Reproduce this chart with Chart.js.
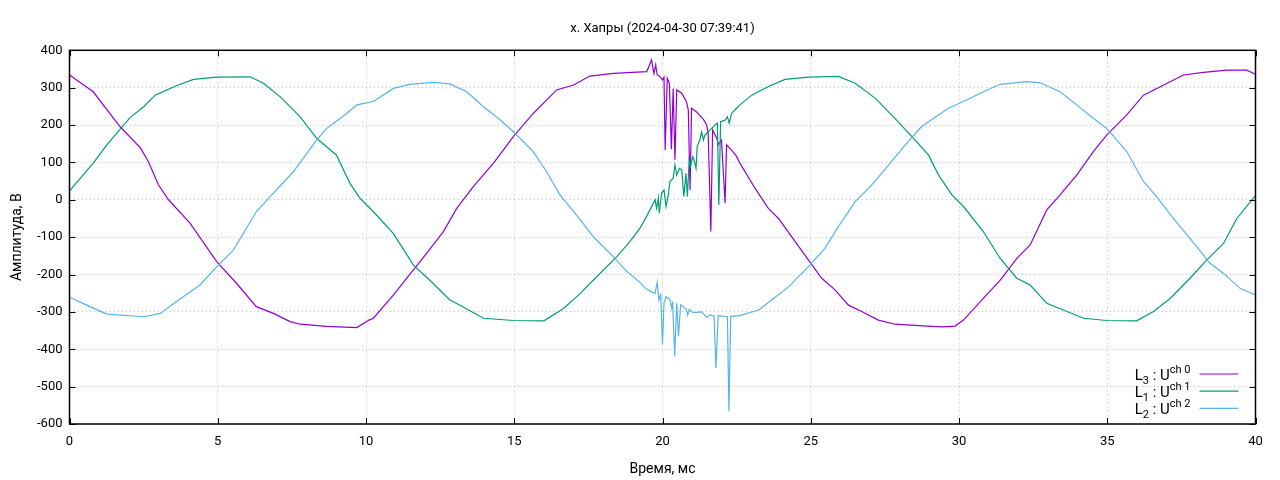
<!DOCTYPE html>
<html>
<head>
<meta charset="utf-8">
<script src="https://cdn.jsdelivr.net/npm/chart.js@4.4.1/dist/chart.umd.min.js"></script>
<style>
	html, body { margin: 0; padding: 0; background: #fff; }
	#box { width: 1280px; height: 480px; }
</style>
</head>
<body>
<div id="box"><canvas id="scope"></canvas></div>
<script>
// values, time in ms, voltage in V
const l3Time = [0, 0.8, 1.7, 2.4, 2.66, 3.0, 3.34, 4.07, 4.97, 5.64, 6.3, 6.88, 7.44, 7.78, 8.67, 9.69, 10.1, 10.25, 10.92, 11.37, 12.05, 12.61, 13.06, 13.62, 14.3, 14.97, 15.64, 16.43, 17.0, 17.55, 18.34, 19.47,
	19.63, 19.71, 19.77, 19.82, 19.91, 20.0, 20.05, 20.09, 20.16, 20.23, 20.3, 20.36, 20.42, 20.48, 20.65, 20.81, 20.87, 20.93, 20.98, 21.15, 21.38, 21.49, 21.54, 21.63, 21.69, 21.83, 21.88, 21.99, 22.11, 22.16, 22.33, 22.5, 22.61,
	23.12, 23.57, 23.91, 24.36, 24.92, 25.37, 25.82, 26.27, 26.72, 27.28, 27.84, 28.63, 29.42, 29.87, 30.15, 30.82, 31.39, 31.95, 32.4, 32.96, 33.41, 33.97, 34.53, 34.98, 35.66, 36.22, 36.67, 37.12, 37.57, 38.24, 39.03, 39.7, 40];
const l3Volt = [334, 289, 196, 138, 102, 40, 0, -63, -166, -224, -286, -304, -326, -333, -339, -342, -322, -317, -255, -210, -143, -85, -23, 35, 98, 169, 231, 294, 307, 331, 338, 343,
	374, 338, 361, 334, 330, 321, 328, 133, 325, 312, 135, 298, 107, 294, 285, 262, 240, 26, 245, 235, 215, 200, 178, -85, 187, 165, 147, 160, -9, 147, 133, 116, 98,
	31, -23, -50, -99, -161, -210, -241, -282, -299, -322, -333, -337, -340, -338, -322, -264, -215, -157, -121, -27, 13, 66, 129, 173, 227, 280, 298, 316, 334, 341, 347, 347, 336];

const l1Time = [0, 0.8, 1.26, 2.04, 2.5, 2.89, 3.6, 4.18, 4.97, 6.09, 6.54, 7.1, 7.78, 8.34, 9.0, 9.46, 9.8, 10.25, 10.92, 11.6, 12.27, 12.83, 13.17, 13.96, 14.97, 16.0, 16.66, 17.22, 17.78, 18.46, 18.9, 19.24, 19.46,
	19.69, 19.75, 19.8, 19.86, 19.89, 19.97, 20.05, 20.12, 20.2, 20.25, 20.36, 20.42, 20.48, 20.57, 20.65, 20.72, 20.79, 20.84, 20.9, 20.95, 21.02, 21.06, 21.13, 21.17, 21.26, 21.32, 21.38, 21.43, 21.54, 21.66, 21.77, 21.85, 21.9, 21.96, 22.11, 22.19, 22.25, 22.33, 22.5, 22.61,
	23.01, 23.57, 24.13, 24.92, 25.93, 26.5, 27.17, 27.84, 28.41, 28.97, 29.31, 29.76, 30.15, 30.82, 31.39, 31.95, 32.4, 32.96, 33.64, 34.2, 34.98, 35.99, 36.56, 37.12, 37.79, 38.36, 38.92, 39.37, 40];
const l1Volt = [24, 98, 147, 220, 249, 280, 305, 322, 328, 329, 312, 276, 222, 164, 120, 44, 4, -32, -90, -175, -224, -268, -282, -317, -323, -324, -291, -251, -206, -152, -112, -76, -45,
	-9, 0, -22, 5, -36, 18, 26, -18, 14, 49, 58, 93, 66, 84, 80, 9, 71, 9, 107, 90, 115, 107, 84, 142, 160, 182, 160, 173, 182, 191, 200, 205, -14, 209, 213, 222, 205, 231, 245, 254,
	280, 303, 322, 328, 330, 312, 272, 218, 169, 120, 66, 13, -18, -85, -157, -210, -228, -277, -299, -317, -323, -324, -299, -264, -210, -161, -117, -50, 11];

const l2Time = [0, 0.58, 1.26, 2.5, 3.06, 3.6, 4.4, 4.97, 5.53, 6.3, 6.76, 7.55, 8.34, 8.67, 9.35, 9.69, 10.25, 10.92, 11.48, 12.27, 12.83, 13.4, 13.96, 14.52, 14.97, 15.64, 16.09, 16.54, 17.1, 17.67, 18.34, 18.8, 19.24, 19.46, 19.63, 19.75,
	19.82, 19.88, 19.94, 20.0, 20.05, 20.12, 20.25, 20.31, 20.34, 20.41, 20.48, 20.54, 20.61, 20.81, 20.85, 20.9, 21.04, 21.32, 21.49, 21.6, 21.74, 21.8, 21.88, 22.19, 22.24, 22.3, 22.61,
	23.24, 23.68, 24.25, 24.92, 25.48, 25.93, 26.5, 27.06, 27.62, 28.29, 28.74, 29.31, 29.64, 30.15, 30.82, 31.39, 32.29, 32.74, 33.41, 33.97, 34.53, 34.98, 35.66, 36.22, 36.67, 37.23, 37.79, 38.47, 38.92, 39.48, 40];
const l2Volt = [-261, -282, -306, -313, -304, -273, -228, -179, -134, -32, 8, 75, 160, 191, 231, 254, 263, 298, 309, 314, 310, 289, 249, 214, 182, 129, 75, 13, -41, -99, -152, -192, -221, -239, -247, -250,
	-221, -268, -254, -388, -277, -259, -268, -290, -272, -419, -277, -366, -281, -294, -308, -293, -302, -300, -314, -308, -311, -450, -310, -313, -566, -312, -310,
	-295, -268, -233, -179, -130, -72, -5, 40, 93, 156, 196, 227, 245, 263, 289, 309, 316, 313, 289, 254, 218, 191, 129, 49, 8, -50, -103, -170, -197, -237, -255];

const legendMain = ['L', 'L', 'L'];
const legendSub = ['3', '1', '2'];
const legendSup = ['ch 0', 'ch 1', 'ch 2'];
const lineColors = ['#9400d3', '#009e73', '#56b4e9'];

const chartTitle = 'х. Хапры (2024-04-30 07:39:41)';
const xTitle = 'Время, мс';
const yTitle = 'Амплитуда, В';

function toPoints(t, v) {
	return t.map((x, i) => ({x: x, y: v[i]}));
}

const FONT = 'Roboto';

// gnuplot style box with inward ticks on all four sides
const framePlugin = {
	id: 'frame',
	afterDatasetsDraw(chart) {
		const ctx = chart.ctx;
		const a = chart.chartArea;
		const xs = chart.scales.x, ys = chart.scales.y;
		const tl = 6;
		ctx.save();
		ctx.strokeStyle = '#000';
		ctx.lineWidth = 1;
		ctx.beginPath();
		xs.ticks.forEach(t => {
			const px = Math.round(xs.getPixelForValue(t.value)) + 0.5;
			ctx.moveTo(px, a.bottom); ctx.lineTo(px, a.bottom - tl);
			ctx.moveTo(px, a.top); ctx.lineTo(px, a.top + tl);
		});
		ys.ticks.forEach(t => {
			const py = Math.round(ys.getPixelForValue(t.value)) + 0.5;
			ctx.moveTo(a.left, py); ctx.lineTo(a.left + tl, py);
			ctx.moveTo(a.right, py); ctx.lineTo(a.right - tl, py);
		});
		ctx.stroke();
		ctx.lineWidth = 1.5;
		ctx.strokeRect(a.left, a.top, a.right - a.left, a.bottom - a.top);
		ctx.restore();
	}
};

// legend with sub/superscripts, bottom right inside the plot
const legendPlugin = {
	id: 'gnuLegend',
	afterDraw(chart) {
		const ctx = chart.ctx;
		const a = chart.chartArea;
		ctx.save();
		chart.data.datasets.forEach((ds, i) => {
			const y = a.bottom - 50 + i * 17.2;
			const base = y + 6;
			const parts = [
				{s: legendMain[i], size: 15, dy: 0},
				{s: legendSub[i], size: 11, dy: 3.5},
				{s: ' : U', size: 15, dy: 0},
				{s: legendSup[i], size: 11, dy: -7}
			];
			let w = 0;
			parts.forEach(p => { ctx.font = p.size + 'px ' + FONT; p.w = ctx.measureText(p.s).width; w += p.w; });
			let x = a.right - 65 - w;
			ctx.fillStyle = '#000';
			ctx.textBaseline = 'alphabetic';
			ctx.textAlign = 'left';
			parts.forEach(p => {
				ctx.font = p.size + 'px ' + FONT;
				ctx.fillText(p.s, x, base + p.dy);
				x += p.w;
			});
			ctx.strokeStyle = ds.borderColor;
			ctx.lineWidth = 1.2;
			ctx.beginPath();
			ctx.moveTo(a.right - 56, y);
			ctx.lineTo(a.right - 17, y);
			ctx.stroke();
		});
		ctx.restore();
	}
};

const gridCol = 'rgba(0,0,0,0.25)';

var scopeChart = new Chart(document.getElementById('scope'), {
	type: 'scatter',
	data: {
		datasets: [{
			label: 'L3',
			data: toPoints(l3Time, l3Volt),
			borderColor: lineColors[0],
			order: 3
		}, {
			label: 'L1',
			data: toPoints(l1Time, l1Volt),
			borderColor: lineColors[1],
			order: 2
		}, {
			label: 'L2',
			data: toPoints(l2Time, l2Volt),
			borderColor: lineColors[2],
			order: 1
		}]
	},
	options: {
		responsive: true,
		maintainAspectRatio: false,
		animation: false,
		devicePixelRatio: 1,
		showLine: true,
		elements: {
			point: { radius: 0, hoverRadius: 0 },
			line: { borderWidth: 1.2, tension: 0, fill: false }
		},
		layout: { padding: { left: 0, right: 24.5, top: 0, bottom: 0 } },
		plugins: {
			legend: { display: false },
			tooltip: { enabled: false },
			title: {
				display: true,
				text: chartTitle,
				fullSize: false,
				color: '#000',
				font: { family: FONT, size: 13, weight: 'normal' },
				padding: { top: 21, bottom: 13.7 }
			}
		},
		scales: {
			x: {
				type: 'linear',
				min: 0,
				max: 40,
				afterFit: s => { s.height = 56; },
				ticks: { stepSize: 5, color: '#000', padding: 10, maxRotation: 0, font: { family: FONT, size: 13 } },
				grid: { drawTicks: false, color: gridCol, lineWidth: 1 },
				border: { display: false, dash: [1, 3] },
				title: {
					display: true,
					text: xTitle,
					color: '#000',
					font: { family: FONT, size: 14 },
					padding: { top: 0, bottom: 2.6 }
				}
			},
			y: {
				type: 'linear',
				min: -600,
				max: 400,
				afterFit: s => { s.width = 69.5; },
				ticks: { stepSize: 100, color: '#000', padding: 7, font: { family: FONT, size: 13 } },
				grid: { drawTicks: false, color: gridCol, lineWidth: 1 },
				border: { display: false, dash: [1, 3] },
				title: {
					display: true,
					text: yTitle,
					color: '#000',
					font: { family: FONT, size: 14 },
					padding: { top: 8.6, bottom: 0 }
				}
			}
		}
	},
	plugins: [framePlugin, legendPlugin]
});
</script>
</body>
</html>
